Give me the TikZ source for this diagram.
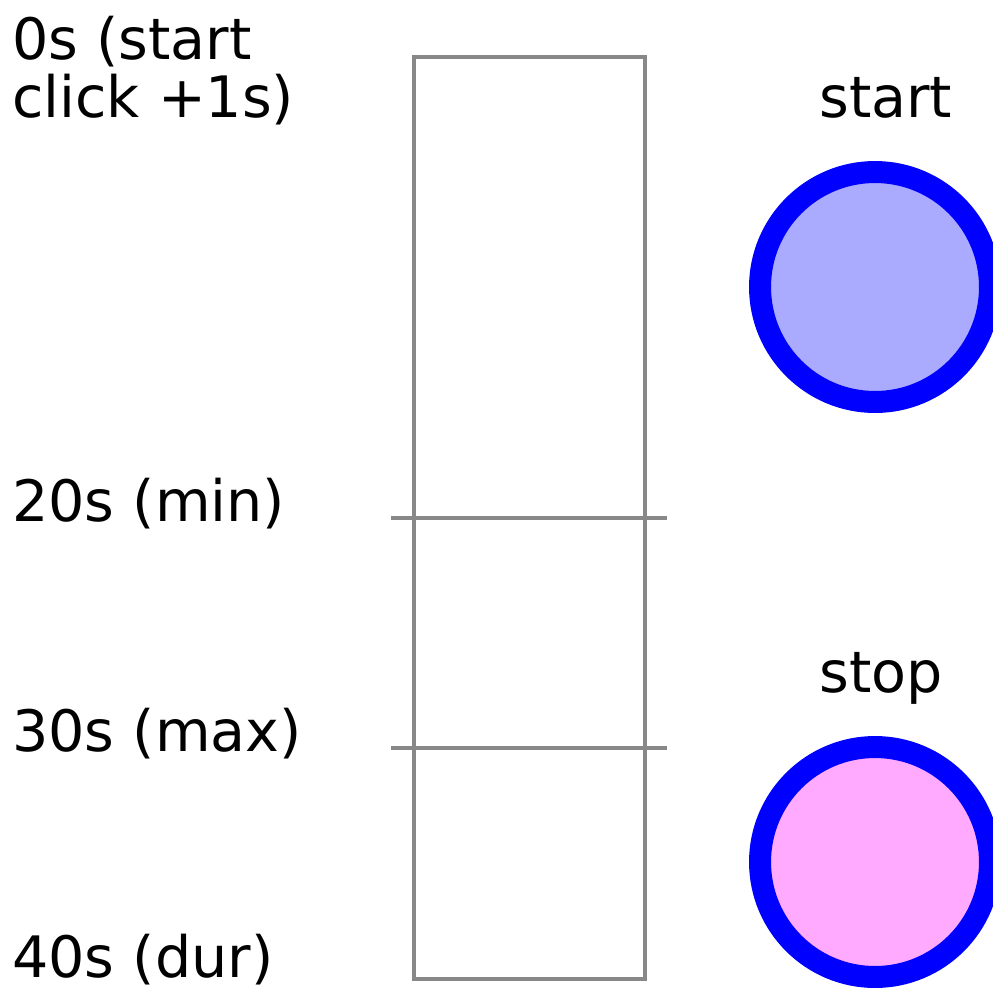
\documentclass[tikz,border=0pt]{standalone}
\usepackage{fontspec}
\setmainfont{DejaVu Sans}
\usetikzlibrary{positioning}
\definecolor{barGray}{HTML}{888888}
\definecolor{startFill}{HTML}{AAAAFF}
\definecolor{stopFill}{HTML}{FFAAFF}
\tikzset{
  lbl/.style={anchor=base west, inner sep=0pt, font=\fontsize{32.5}{32.5}\selectfont},
  bar/.style={draw=barGray, line width=2.2pt},
  btn/.style={draw=blue, line width=0.44cm}
}
\begin{document}
\begin{tikzpicture}[x=0.02cm, y=-0.02cm]
        \useasboundingbox (0,0) rectangle (993,988);
        % time labels
        \node[lbl, align=left](t0)at(12,117){0s (start\\click +1s)};
        \node[lbl](t20)at(12,521){20s (min)};
        \node[lbl](t30)at(12,751){30s (max)};
        \node[lbl](t40)at(12,977){40s (dur)};
        % bar
        \path[bar](414,57)rectangle(645,979);
        \path[bar](391,518)to(667,518);
        \path[bar](391,748)to(667,748);
        % buttons
        \coordinate(startC)at(875,287);
        \coordinate(stopC)at(875,862);
        \path[btn, fill=startFill](startC)circle[radius=2.3cm];
        \path[btn, fill=stopFill](stopC)circle[radius=2.3cm];
        \node[lbl](startL)at(819,117){start};
        \node[lbl](stopL)at(819,692){stop};
\end{tikzpicture}
\end{document}
